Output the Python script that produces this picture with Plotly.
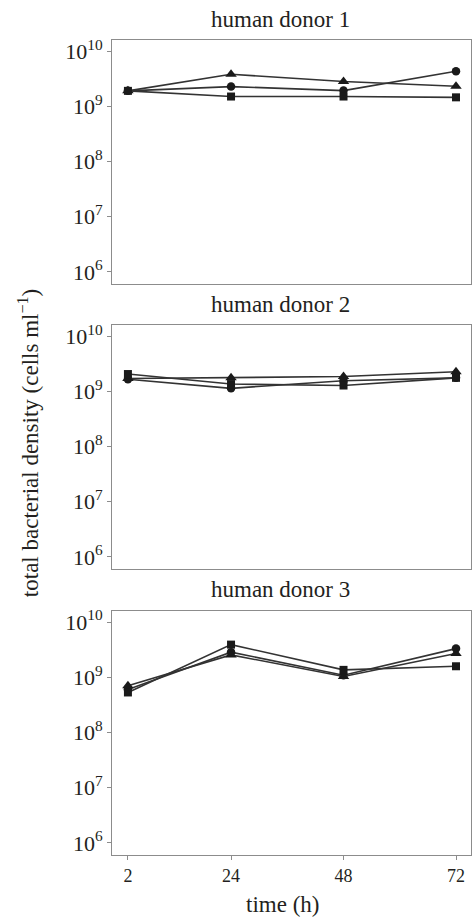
import plotly.graph_objects as go

# Sampling times (h)
time_h = [2, 24, 48, 72]

# Total bacterial density (cells per ml) per donor, one list per treatment series
donor1_circle = [1.9e9, 2.27e9, 1.92e9, 4.3e9]
donor1_triangle = [1.9e9, 3.8e9, 2.8e9, 2.3e9]
donor1_square = [1.9e9, 1.5e9, 1.5e9, 1.45e9]

donor2_circle = [1.65e9, 1.13e9, 1.55e9, 1.75e9]
donor2_triangle = [1.7e9, 1.75e9, 1.85e9, 2.25e9]
donor2_square = [2.05e9, 1.35e9, 1.27e9, 1.75e9]

donor3_circle = [6.0e8, 2.85e9, 1.09e9, 3.3e9]
donor3_triangle = [7.0e8, 2.54e9, 1.03e9, 2.7e9]
donor3_square = [5.3e8, 3.9e9, 1.36e9, 1.58e9]

panel_titles = ["human donor 1", "human donor 2", "human donor 3"]
y_tickvals = [1e6, 1e7, 1e8, 1e9, 1e10]
y_ticktext = ["10<sup>6</sup>", "10<sup>7</sup>", "10<sup>8</sup>",
              "10<sup>9</sup>", "10<sup>10</sup>"]
x_tickvals = [2, 24, 48, 72]
x_ticktext = ["2", "24", "48", "72"]

panels = [
    (donor1_circle, donor1_triangle, donor1_square),
    (donor2_circle, donor2_triangle, donor2_square),
    (donor3_circle, donor3_triangle, donor3_square),
]

FONT = "Liberation Serif"
TEXT = "#231f20"
LINE = "#333333"
MARK = "#1a1a1a"
FRAME = "#8c8c8c"

# Panel domains in paper coordinates (top to bottom)
domains = [[0.7006, 1.0], [0.3509, 0.6503], [0.0, 0.2994]]
title_y = [1.0255, 0.6755, 0.3255]

fig = go.Figure()
symbols = ["circle", "triangle-up", "square"]
sizes = [8.5, 10, 8]

for i, series in enumerate(panels):
    ax = "" if i == 0 else str(i + 1)
    for vals, sym, sz in zip(series, symbols, sizes):
        fig.add_trace(go.Scatter(
            x=time_h, y=vals, mode="lines+markers",
            line=dict(color=LINE, width=1.6),
            marker=dict(symbol=sym, size=sz, color=MARK),
            xaxis="x" + ax, yaxis="y" + ax, showlegend=False,
        ))

layout = dict(
    width=473, height=917,
    margin=dict(l=112, r=2, t=40, b=62),
    paper_bgcolor="white", plot_bgcolor="white",
    font=dict(family=FONT, color=TEXT),
    showlegend=False,
)

for i in range(3):
    ax = "" if i == 0 else str(i + 1)
    last = i == 2
    layout["xaxis" + ax] = dict(
        domain=[0, 1], range=[-1.4, 75.2], anchor="y" + ax,
        showline=True, linecolor=FRAME, linewidth=1, mirror=True,
        showgrid=False, zeroline=False,
        tickmode="array", tickvals=x_tickvals, ticktext=x_ticktext,
        ticks="outside" if last else "", ticklen=4, tickcolor=FRAME,
        showticklabels=last,
        tickfont=dict(family=FONT, size=18, color=TEXT),
        matches=None if i == 0 else "x",
    )
    layout["yaxis" + ax] = dict(
        domain=domains[i], type="log", range=[5.78, 10.2], anchor="x" + ax,
        showline=True, linecolor=FRAME, linewidth=1, mirror=True,
        showgrid=False, zeroline=False,
        tickmode="array", tickvals=y_tickvals, ticktext=y_ticktext,
        ticks="outside", ticklen=4, tickcolor=FRAME,
        tickfont=dict(family=FONT, size=22, color=TEXT),
    )

annotations = []
for t, yy in zip(panel_titles, title_y):
    annotations.append(dict(
        text=t, x=0.469, y=yy, xref="paper", yref="paper",
        xanchor="center", yanchor="middle", showarrow=False,
        font=dict(family=FONT, size=23, color=TEXT),
    ))
annotations.append(dict(
    text="total bacterial density (cells ml<sup>\u22121</sup>)",
    x=-0.232, y=0.505, xref="paper", yref="paper", textangle=-90,
    xanchor="center", yanchor="middle", showarrow=False,
    font=dict(family=FONT, size=23, color=TEXT),
))
annotations.append(dict(
    text="time (h)", x=0.474, y=-0.0613, xref="paper", yref="paper",
    xanchor="center", yanchor="middle", showarrow=False,
    font=dict(family=FONT, size=23, color=TEXT),
))
layout["annotations"] = annotations

fig.update_layout(**layout)
fig.write_html("out.html")
